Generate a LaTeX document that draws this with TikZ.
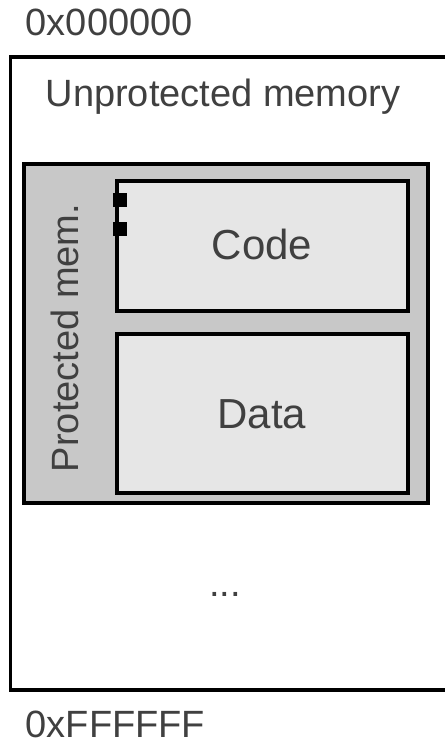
\documentclass[tikz,border=0pt]{standalone}
\usepackage{fontspec}
\setmainfont{Liberation Sans}
\usetikzlibrary{positioning}
\definecolor{protgray}{HTML}{C8C8C8}
\definecolor{segfill}{HTML}{E6E6E6}
\definecolor{txtgray}{HTML}{404040}

\begin{document}
\begin{tikzpicture}[x=0.75pt, y=-0.75pt,
    memline/.style={draw=black, line width=2.3pt},
    txt/.style={inner sep=0pt, text=txtgray, font=\fontsize{28.5}{34}\selectfont},
    segtxt/.style={inner sep=0pt, text=txtgray, font=\fontsize{31.5}{38}\selectfont},
    gate/.style={fill=black, inner sep=0pt, minimum size=10.5pt}]
  \useasboundingbox (0,0) rectangle (444,741);

  % The whole address space
  \draw[memline] (10.5,57) rectangle (448,690);
  \node[txt, anchor=base west] (lowaddr) at (25.5,36) {0x000000};
  \node[txt, anchor=base west, text depth=0pt] (highaddr) at (25.5,737) {0xFFFFFF};
  \node[txt, anchor=base] (unprot) at (223,107) {Unprotected memory};
  \node[txt, anchor=base] (rest) at (225,596) {...};

  % The protected region with its code and data segments
  \draw[memline, line width=2.6pt, fill=protgray] (24,164) rectangle (428,503);
  \node[txt, anchor=base, rotate=90] (prot) at (78,338) {Protected mem.};

  \draw[memline, fill=segfill] (117,181) rectangle (408,311);
  \node[segtxt, anchor=base] (code) at (262,260) {Code};

  \draw[memline, fill=segfill] (117,334) rectangle (408,493);
  \node[segtxt, anchor=base] (data) at (262,428) {Data};

  % Entry points into the code segment
  \node[gate] (entry1) at (119.5,200) {};
  \node[gate] (entry2) at (119.5,229) {};
\end{tikzpicture}
\end{document}
